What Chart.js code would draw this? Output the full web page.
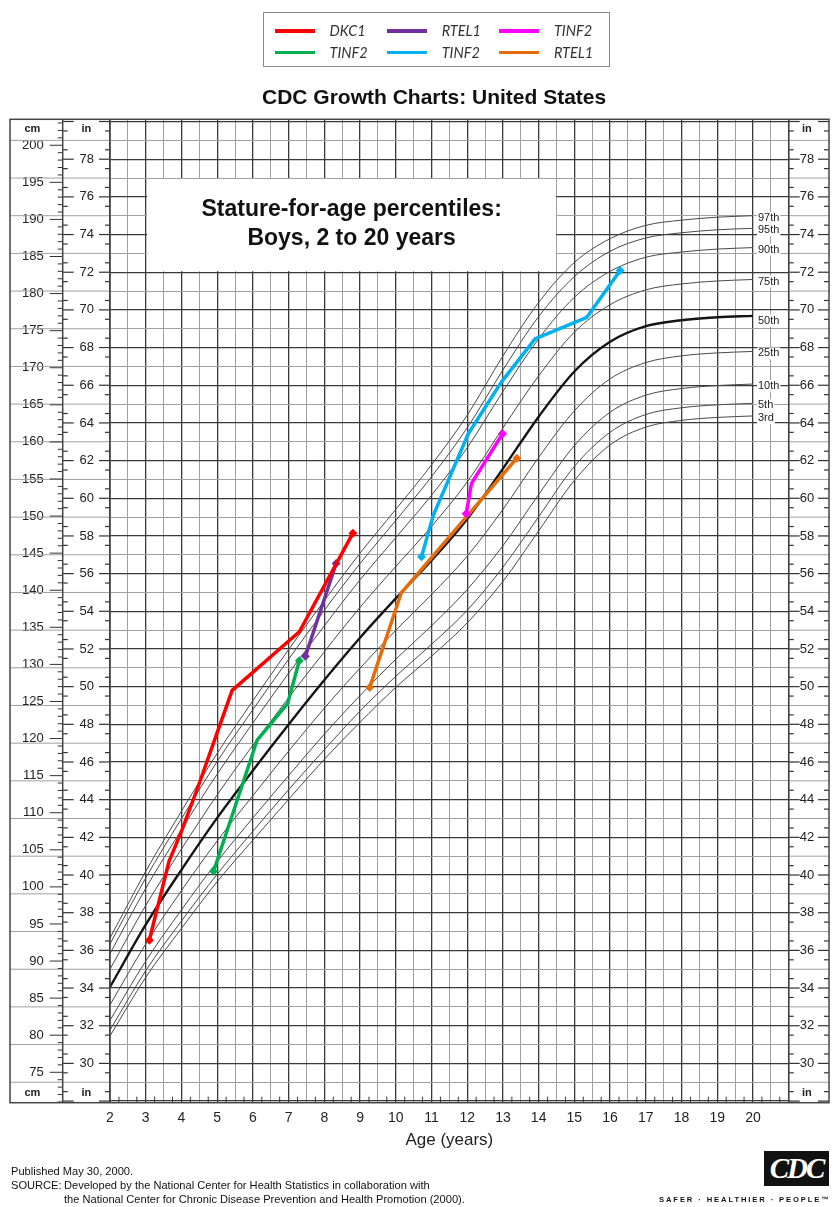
<!DOCTYPE html>
<html>
<head>
<meta charset="utf-8">
<script src="https://cdn.jsdelivr.net/npm/chart.js@4.4.0/dist/chart.umd.min.js"></script>
<style>
  body { margin: 0; background: #fff; font-family: "Liberation Sans", Arial, sans-serif; }
  #wrap { position: relative; width: 834px; height: 1207px; overflow: hidden; }
  #growth { position: absolute; left: 0; top: 0; }
  #legend {
    position: absolute; left: 263px; top: 12px; width: 347px; height: 55px;
    box-sizing: border-box; border: 1.5px solid #8a8a8a;
    padding: 7px 0 0 10.5px;
    display: grid; grid-template-columns: repeat(3, 112.2px); grid-auto-rows: 21.6px;
  }
  #legend .item { display: flex; align-items: center; }
  #legend .swatch { display: inline-block; width: 40px; height: 3.5px; margin-right: 15px; }
  #legend .lbl { font-family: Lato, "Open Sans", sans-serif; font-style: italic; font-size: 14.5px; color: #333; }
  #title { position: absolute; left: 262px; top: 84px; font-size: 21px; line-height: 25px; font-weight: bold; color: #111; white-space: nowrap; }
  #foot { position: absolute; left: 11px; top: 1164px; font-size: 11.1px; line-height: 14.2px; color: #111; white-space: nowrap; }
  #foot .src { display: inline-block; width: 53px; }
  #logo { position: absolute; left: 764px; top: 1151px; width: 65px; height: 35px; background: #111; color: #fff;
          font-family: "Liberation Serif", serif; font-weight: bold; font-style: italic; font-size: 29px; line-height: 35px;
          text-align: center; letter-spacing: -2px; }
  #motto { position: absolute; left: 659px; top: 1195px; font-size: 7.6px; font-weight: bold; letter-spacing: 1.9px; color: #111; white-space: nowrap; }
</style>
</head>
<body>
<div id="wrap">
  <canvas id="growth" width="834" height="1207"></canvas>
  <div id="legend"></div>
  <div id="title">CDC Growth Charts: United States</div>
  <div id="foot">
    Published May 30, 2000.<br>
    <span class="src">SOURCE:</span>Developed by the National Center for Health Statistics in collaboration with<br>
    <span class="src"></span>the National Center for Chronic Disease Prevention and Health Promotion (2000).
  </div>
  <div id="logo">CDC</div>
  <div id="motto">SAFER · HEALTHIER · PEOPLE™</div>
</div>
<script>
// ---- reference curves: stature-for-age, boys (cm) ----
const ages = [2, 3, 4, 5, 6, 7, 8, 9, 10, 11, 12, 13, 14, 15, 16, 17, 18, 19, 20];
const p3  = [79.9, 87.8, 94.4, 100.7, 106.3, 111.8, 117.2, 122.2, 126.9, 131.1, 135.6, 141.2, 148.0, 154.8, 159.6, 162.0, 162.9, 163.3, 163.5];
const p5  = [80.7, 88.7, 95.4, 101.7, 107.5, 113.1, 118.5, 123.7, 128.4, 132.7, 137.3, 143.1, 149.9, 156.7, 161.3, 163.7, 164.6, 165.0, 165.2];
const p10 = [82.0, 90.0, 96.9, 103.4, 109.3, 115.0, 120.6, 125.8, 130.7, 135.2, 140.1, 146.0, 152.9, 159.5, 164.0, 166.3, 167.2, 167.6, 167.8];
const p25 = [84.1, 92.3, 99.5, 106.2, 112.3, 118.3, 124.1, 129.5, 134.6, 139.4, 144.6, 150.9, 157.9, 164.2, 168.5, 170.7, 171.6, 172.0, 172.2];
const p50 = [86.5, 94.9, 102.3, 109.3, 115.7, 121.9, 127.9, 133.6, 138.9, 144.0, 149.6, 156.4, 163.4, 169.5, 173.5, 175.6, 176.4, 176.8, 177.0];
const p75 = [88.9, 97.5, 105.1, 112.4, 119.1, 125.5, 131.7, 137.7, 143.2, 148.6, 154.6, 161.9, 168.9, 174.8, 178.5, 180.5, 181.3, 181.7, 181.9];
const p90 = [91.0, 99.8, 107.7, 115.2, 122.1, 128.8, 135.2, 141.4, 147.1, 152.8, 159.2, 166.8, 173.9, 179.5, 183.0, 184.9, 185.6, 186.0, 186.2];
const p95 = [92.3, 101.2, 109.2, 116.9, 123.9, 130.7, 137.3, 143.6, 149.4, 155.3, 161.9, 169.7, 176.9, 182.3, 185.7, 187.5, 188.2, 188.6, 188.8];
const p97 = [93.1, 102.1, 110.2, 118.0, 125.1, 132.0, 138.6, 145.0, 150.9, 156.9, 163.6, 171.6, 178.8, 184.2, 187.4, 189.2, 189.9, 190.3, 190.5];
const pctNames = ['3rd', '5th', '10th', '25th', '50th', '75th', '90th', '95th', '97th'];
const pctSeries = [p3, p5, p10, p25, p50, p75, p90, p95, p97];

// ---- patients (age in years, stature in cm) ----
const dkc1Age  = [3.10, 3.65, 4.00, 4.45, 5.00, 5.42, 7.30, 8.80];
const dkc1Cm   = [92.8, 103.4, 107.5, 113.3, 120.8, 126.5, 134.4, 147.7];
const rtel1aAge = [7.47, 8.33];
const rtel1aCm  = [131.1, 143.6];
const tinf2aAge = [11.97, 12.12, 12.99];
const tinf2aCm  = [150.3, 154.4, 161.1];
const tinf2bAge = [4.90, 6.12, 6.97, 7.30];
const tinf2bCm  = [102.1, 119.8, 124.7, 130.5];
const tinf2cAge = [10.72, 11.05, 12.03, 12.96, 13.90, 15.35, 16.28];
const tinf2cCm  = [144.5, 150.1, 161.1, 168.1, 173.9, 176.8, 183.1];
const rtel1bAge = [9.27, 10.15, 13.39];
const rtel1bCm  = [126.9, 139.6, 157.8];

const patientNames  = ['DKC1', 'RTEL1', 'TINF2', 'TINF2', 'TINF2', 'RTEL1'];
const patientColors = ['#ff0000', '#7030a0', '#ff00ff', '#00b050', '#00b0f0', '#e46c0a'];
const patientAges = [dkc1Age, rtel1aAge, tinf2aAge, tinf2bAge, tinf2cAge, rtel1bAge];
const patientCm   = [dkc1Cm, rtel1aCm, tinf2aCm, tinf2bCm, tinf2cCm, rtel1bCm];

// ---- axis ticks ----
const ageTicks = [2, 3, 4, 5, 6, 7, 8, 9, 10, 11, 12, 13, 14, 15, 16, 17, 18, 19, 20];
const cmTicks = [75, 80, 85, 90, 95, 100, 105, 110, 115, 120, 125, 130, 135, 140, 145, 150, 155, 160, 165, 170, 175, 180, 185, 190, 195, 200];
const inTicks = [30, 32, 34, 36, 38, 40, 42, 44, 46, 48, 50, 52, 54, 56, 58, 60, 62, 64, 66, 68, 70, 72, 74, 76, 78];

const cmMin = 70.9, cmMax = 203.5;
const CM_PER_IN = 2.54;
const DARK = '#3a3a3a', LIGHT = '#a0a0a0';

const halfYears = [];
for (let v = 2; v <= 21; v += 0.5) halfYears.push(v);
const inchLines = [];
for (let v = 28; v <= 80; v++) inchLines.push(v);

// legend
const legendEl = document.getElementById('legend');
patientNames.forEach((name, i) => {
  const item = document.createElement('div');
  item.className = 'item';
  item.innerHTML = '<span class="swatch" style="background:' + patientColors[i] + '"></span><span class="lbl">' + name + '</span>';
  legendEl.appendChild(item);
});

function line(ctx, x1, y1, x2, y2) {
  ctx.beginPath();
  ctx.moveTo(x1, y1);
  ctx.lineTo(x2, y2);
  ctx.stroke();
}

const decor = {
  id: 'decor',
  beforeDatasetsDraw(chart) {
    const {ctx, chartArea: a} = chart;
    const {x, y, yIn, yInR} = chart.scales;
    ctx.save();
    // odd inch rules carry on through the side columns
    ctx.lineWidth = 1;
    ctx.strokeStyle = LIGHT;
    inchLines.forEach(v => {
      if (v % 2 === 0) return;
      const py = yIn.getPixelForValue(v);
      line(ctx, y.left, py, a.left, py);
      line(ctx, a.right, py, yInR.right, py);
    });
    // dashes beside inch labels, small marks at half inches
    ctx.strokeStyle = '#333';
    ctx.lineWidth = 1.2;
    for (let v = 28; v <= 80; v += 0.5) {
      let len = 0;
      if (v % 2 === 0) len = 11;
      else if (v % 1 !== 0) len = 5;
      if (!len) continue;
      const py = yIn.getPixelForValue(v);
      [yIn, yInR].forEach(s => {
        line(ctx, s.left, py, s.left + len, py);
        line(ctx, s.right - len, py, s.right, py);
      });
    }
    // centimetre marks
    ctx.lineWidth = 1;
    for (let c = Math.ceil(cmMin); c <= cmMax; c++) {
      const py = y.getPixelForValue(c);
      const len = c % 5 === 0 ? 13 : 5;
      line(ctx, y.right - len, py, y.right, py);
    }
    // quarter-year marks along the bottom edge
    for (let t = 2.25; t < 21; t += 0.5) {
      const px = x.getPixelForValue(t);
      line(ctx, px, a.bottom - 6, px, a.bottom);
    }
    // white panel with the chart name
    const l = x.getPixelForValue(3) + 1.5, r = x.getPixelForValue(14.5) - 0.5;
    const t = yIn.getPixelForValue(77) + 1, b = yIn.getPixelForValue(72) - 1;
    ctx.fillStyle = '#fff';
    ctx.fillRect(l, t, r - l, b - t);
    ctx.fillStyle = '#111';
    ctx.font = 'bold 23px "Liberation Sans", Arial, sans-serif';
    ctx.textAlign = 'center';
    ctx.textBaseline = 'middle';
    ctx.fillText('Stature-for-age percentiles:', (l + r) / 2, t + 31);
    ctx.fillText('Boys, 2 to 20 years', (l + r) / 2, t + 60);
    ctx.restore();
  },
  afterDatasetsDraw(chart) {
    const {ctx} = chart;
    const {x, y} = chart.scales;
    ctx.save();
    ctx.font = '11px "Liberation Sans", Arial, sans-serif';
    ctx.textAlign = 'left';
    ctx.textBaseline = 'middle';
    const px = x.getPixelForValue(20) + 5;
    pctSeries.forEach((s, i) => {
      const py = y.getPixelForValue(s[s.length - 1]) + (i === 4 ? 5 : 2);
      const w = ctx.measureText(pctNames[i]).width;
      ctx.fillStyle = '#fff';
      ctx.fillRect(px - 1, py - 6, w + 2, 12);
      ctx.fillStyle = '#222';
      ctx.fillText(pctNames[i], px, py);
    });
    ctx.restore();
  },
  afterDraw(chart) {
    const {ctx, chartArea: a} = chart;
    const {y, yIn, yInR} = chart.scales;
    ctx.save();
    ctx.strokeStyle = '#444';
    ctx.lineWidth = 1.5;
    ctx.strokeRect(y.left, a.top, yInR.right - y.left, a.bottom - a.top);
    [y.right, a.left, a.right].forEach(px => line(ctx, px, a.top, px, a.bottom));
    ctx.fillStyle = '#222';
    ctx.font = 'bold 11px "Liberation Sans", Arial, sans-serif';
    ctx.textAlign = 'center';
    ctx.textBaseline = 'middle';
    [a.top + 10, a.bottom - 10].forEach(py => {
      ctx.fillText('cm', (y.left + y.right) / 2 - 4, py);
      ctx.fillText('in', (yIn.left + yIn.right) / 2, py);
      ctx.fillText('in', (yInR.left + yInR.right) / 2 - 2, py);
    });
    ctx.restore();
  }
};

const datasets = [];
patientNames.forEach((name, i) => {
  datasets.push({
    label: name,
    data: patientAges[i].map((a, k) => ({x: a, y: patientCm[i][k]})),
    borderColor: patientColors[i],
    backgroundColor: patientColors[i],
    borderWidth: 3.5,
    borderJoinStyle: 'round',
    tension: 0,
    pointStyle: 'rectRot',
    pointRadius: c => (c.dataIndex === 0 || c.dataIndex === c.dataset.data.length - 1) ? 4.5 : 0,
    pointBorderWidth: 0
  });
});
pctSeries.forEach((s, i) => {
  datasets.push({
    label: pctNames[i],
    data: ages.map((a, k) => ({x: a, y: s[k]})),
    borderColor: i === 4 ? '#151515' : '#4a4a4a',
    borderWidth: i === 4 ? 2.4 : 1,
    cubicInterpolationMode: 'monotone',
    pointRadius: 0
  });
});

Chart.defaults.font.family = '"Liberation Sans", Arial, sans-serif';

new Chart(document.getElementById('growth'), {
  type: 'line',
  data: { datasets: datasets },
  plugins: [decor],
  options: {
    responsive: false,
    animation: false,
    devicePixelRatio: 1,
    layout: { padding: { left: 10, right: 5, top: 119.3, bottom: 52.3 } },
    plugins: { legend: { display: false }, tooltip: { enabled: false } },
    scales: {
      x: {
        type: 'linear', position: 'bottom', min: 2, max: 21,
        afterBuildTicks: s => { s.ticks = halfYears.map(v => ({value: v})); },
        ticks: { autoSkip: false, maxRotation: 0, padding: 7, color: '#222', font: { size: 14 },
                 callback: v => ageTicks.includes(v) ? String(v) : '' },
        grid: { drawTicks: false,
                color: c => (c.tick && c.tick.value % 1 === 0) ? DARK : LIGHT,
                lineWidth: c => (c.tick && c.tick.value % 1 === 0) ? 1.3 : 1 },
        border: { display: false },
        title: { display: true, text: 'Age (years)', color: '#222', font: { size: 17 }, padding: { top: 0, bottom: 4 } },
        afterFit: s => { s.height = 52; }
      },
      y: {
        type: 'linear', position: 'left', weight: 2, min: cmMin, max: cmMax,
        afterBuildTicks: s => { s.ticks = cmTicks.map(v => ({value: v})); },
        ticks: { autoSkip: false, padding: 19, color: '#222', font: { size: 13 } },
        grid: { display: false, drawTicks: false },
        border: { display: false },
        afterFit: s => { s.width = 52.7; }
      },
      yIn: {
        type: 'linear', position: 'left', weight: 1, min: cmMin / CM_PER_IN, max: cmMax / CM_PER_IN,
        afterBuildTicks: s => { s.ticks = inchLines.map(v => ({value: v})); },
        ticks: { autoSkip: false, padding: 16, color: '#222', font: { size: 13 },
                 callback: v => inTicks.includes(v) ? String(v) : '' },
        grid: { drawTicks: false,
                color: c => (c.tick && c.tick.value % 2 === 0) ? DARK : LIGHT,
                lineWidth: c => (c.tick && c.tick.value % 2 === 0) ? 1.3 : 1 },
        border: { display: false },
        afterFit: s => { s.width = 47.3; }
      },
      yInR: {
        type: 'linear', position: 'right', min: cmMin / CM_PER_IN, max: cmMax / CM_PER_IN,
        afterBuildTicks: s => { s.ticks = inTicks.map(v => ({value: v})); },
        ticks: { autoSkip: false, padding: 11, color: '#222', font: { size: 13 } },
        grid: { display: false, drawTicks: false },
        border: { display: false },
        afterFit: s => { s.width = 40.3; }
      }
    }
  }
});
</script>
</body>
</html>
